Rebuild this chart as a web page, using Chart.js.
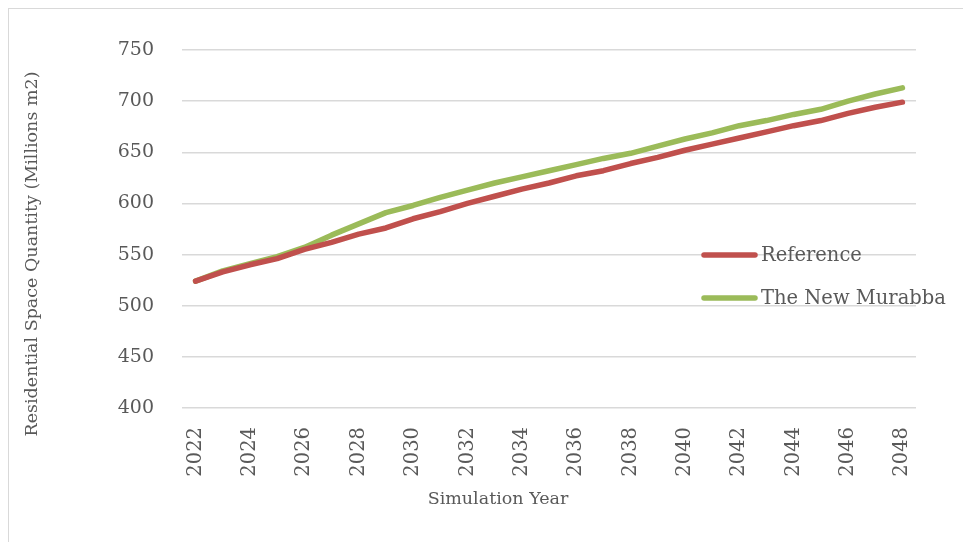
<!DOCTYPE html>
<html>
<head>
<meta charset="utf-8">
<script src="https://cdn.jsdelivr.net/npm/chart.js@4.4.1/dist/chart.umd.min.js"></script>
<style>
  html, body { margin: 0; padding: 0; background: #fff; }
  #wrap { width: 963px; height: 542px; position: relative; }
</style>
</head>
<body>
<div id="wrap"><canvas id="space-chart"></canvas></div>
<script>
const years = ['2022', '2023', '2024', '2025', '2026', '2027', '2028', '2029', '2030',
  '2031', '2032', '2033', '2034', '2035', '2036', '2037', '2038', '2039', '2040',
  '2041', '2042', '2043', '2044', '2045', '2046', '2047', '2048'];

const referenceValues = [524, 533, 540, 546, 555, 562, 570, 576, 585,
  592, 600, 607, 614, 620, 627, 632, 639, 645, 652,
  658, 664, 670, 676, 681, 688, 694, 699];

const murabbaValues = [524, 534, 541, 548, 557, 569, 580, 591, 598,
  606, 613, 620, 626, 632, 638, 644, 649, 656, 663,
  669, 676, 681, 687, 692, 700, 707, 713];

const seriesNames = ['Reference', 'The New Murabba'];
const seriesColors = ['#c0504d', '#9bbb59'];

const yMin = 400, yMax = 750, yStep = 50;
const yTitle = 'Residential Space Quantity (Millions m2)';
const xTitle = 'Simulation Year';

const textColor = '#595959';
const serif = '"DejaVu Serif", "Liberation Serif", serif';

// frame, axis titles and the legend sitting over the plot
const decorations = {
  id: 'decorations',
  beforeDraw(chart) {
    const c = chart.ctx;
    c.save();
    c.strokeStyle = '#d9d9d9';
    c.lineWidth = 1;
    c.strokeRect(8.5, 8.5, 1000, 600);
    c.restore();
  },
  afterDraw(chart) {
    const c = chart.ctx;
    c.save();
    c.fillStyle = textColor;
    c.font = '17.5px ' + serif;
    c.textAlign = 'center';
    c.textBaseline = 'middle';

    c.save();
    c.translate(32, 254);
    c.rotate(-Math.PI / 2);
    c.fillText(yTitle, 0, 0);
    c.restore();

    c.fillText(xTitle, 498, 499);

    c.font = '19.5px ' + serif;
    c.textAlign = 'left';
    const rows = [255, 298];
    chart.data.datasets.forEach((ds, i) => {
      c.strokeStyle = ds.borderColor;
      c.lineWidth = 5.5;
      c.lineCap = 'round';
      c.beginPath();
      c.moveTo(704, rows[i]);
      c.lineTo(755, rows[i]);
      c.stroke();
      c.fillText(ds.label, 761, rows[i] + 1);
    });
    c.restore();
  }
};

const ctx = document.getElementById('space-chart').getContext('2d');

const data = {
  labels: years,
  datasets: [
    { label: seriesNames[0], data: referenceValues },
    { label: seriesNames[1], data: murabbaValues }
  ].map((ds, i) => Object.assign(ds, {
    borderColor: seriesColors[i],
    backgroundColor: seriesColors[i],
    borderWidth: 5.5,
    borderCapStyle: 'round',
    borderJoinStyle: 'round',
    pointRadius: 0,
    tension: 0,
    fill: false
  }))
};

const config = {
  type: 'line',
  data: data,
  options: {
    responsive: true,
    maintainAspectRatio: false,
    animation: false,
    layout: { padding: { top: 50, right: 47, bottom: 0, left: 0 } },
    plugins: {
      legend: { display: false },
      title: { display: false },
      tooltip: { enabled: false }
    },
    scales: {
      x: {
        offset: true,
        grid: { display: false, drawTicks: false },
        border: { display: false },
        ticks: {
          autoSkip: false,
          minRotation: 90,
          maxRotation: 90,
          padding: 19,
          color: textColor,
          font: { family: serif, size: 19.5 },
          callback: function (value, index) {
            return index % 2 === 0 ? this.getLabelForValue(value) : '';
          }
        },
        afterFit(scale) { scale.height = 134; }
      },
      y: {
        min: yMin,
        max: yMax,
        grid: { color: '#d9d9d9', lineWidth: 1.5, drawTicks: false },
        border: { display: false },
        ticks: {
          stepSize: yStep,
          padding: 28,
          color: textColor,
          font: { family: serif, size: 19 }
        },
        afterFit(scale) { scale.width = 182; }
      }
    }
  },
  plugins: [decorations]
};

const spaceChart = new Chart(ctx, config);
</script>
</body>
</html>
